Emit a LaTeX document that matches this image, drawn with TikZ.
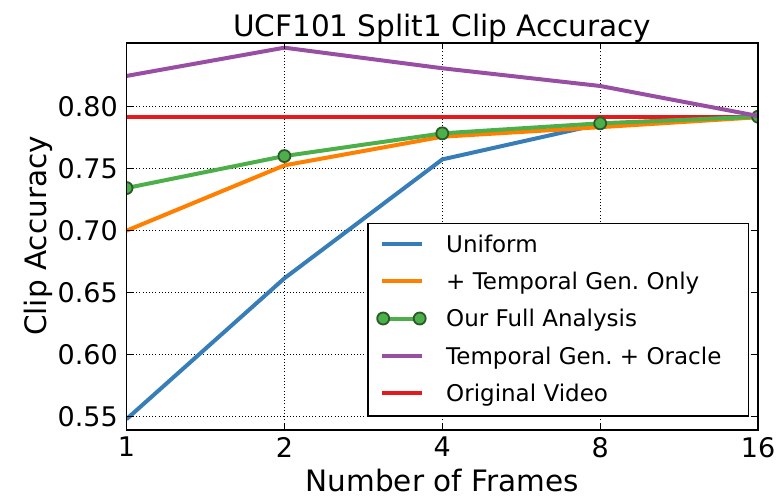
\documentclass[tikz,border=0pt]{standalone}
\usepackage{fontspec}
\setmainfont{DejaVu Sans}
\usetikzlibrary{positioning}

\definecolor{setblue}{HTML}{377EB8}
\definecolor{setorange}{HTML}{FF7F00}
\definecolor{setgreen}{HTML}{4DAF4A}
\definecolor{setpurple}{HTML}{984EA3}
\definecolor{setred}{HTML}{E41A1C}
\definecolor{markedge}{HTML}{2A5A28}

\tikzstyle{curve}=[line width=4pt, line join=round]
\tikzstyle{gridline}=[draw=black, line width=0.9pt, dash pattern=on 1pt off 2.2pt]
\tikzstyle{frame}=[draw=black, line width=1.3pt]
\tikzstyle{marker}=[draw=markedge, fill=setgreen, line width=1.8pt, circle, minimum size=12pt, inner sep=0pt]
\tikzstyle{ticklabel}=[font=\fontsize{27}{30}\selectfont, inner sep=0pt]
\tikzstyle{axislabel}=[font=\fontsize{29.5}{32}\selectfont, inner sep=0pt]
\tikzstyle{legendtext}=[font=\fontsize{23}{26}\selectfont, anchor=base west, inner sep=0pt]
\newcommand{\ymin}{-1.07}
\newcommand{\ymax}{30.14}

\begin{document}
\frenchspacing
\begin{tikzpicture}
    \useasboundingbox (0,0) rectangle (782pt,499pt);
    % Plot area: x is log2 of the frame count, y is accuracy in hundredths above 0.55
    \begin{scope}[shift={(126.5pt,82.3pt)}, x=157.9pt, y=12.4pt]
        % First we draw the dotted grid
        \foreach \i in {0,...,4}
            \draw[gridline] (\i,\ymin) -- (\i,\ymax);
        \foreach \j in {0,5,...,25}
            \draw[gridline] (0,\j) -- (4,\j);
        % Then the curves, clipped to the axes
        \begin{scope}
            \clip (0,\ymin) rectangle (4,\ymax);
            \draw[curve, setred] (0,24.19) -- (4,24.19);
            \draw[curve, setblue] plot coordinates {(0,-0.2) (1,11.16) (2,20.75) (3,23.6) (4,24.2)};
            \draw[curve, setorange] plot coordinates {(0,15) (1,20.27) (2,22.58) (3,23.35) (4,24.15)};
            \draw[curve, setgreen] plot coordinates {(0,18.44) (1,21.02) (2,22.85) (3,23.66) (4,24.19)};
            \foreach \k/\yy in {0/18.44, 1/21.02, 2/22.85, 3/23.66, 4/24.19}
                \node[marker] (g\k) at (\k,\yy) {};
            \draw[curve, setpurple] plot coordinates {(0,27.48) (1,29.76) (2,28.1) (3,26.67) (4,24.25)};
        \end{scope}
        % Frame with inward ticks and tick labels
        \draw[frame] (0,\ymin) rectangle (4,\ymax);
        \foreach \i/\lab in {0/1, 1/2, 2/4, 3/8, 4/16} {
            \draw[frame] (\i,\ymin) -- ++(0,6pt) (\i,\ymax) -- ++(0,-6pt);
            \node[ticklabel, anchor=north] (xt\i) at ([yshift=-7pt]\i,\ymin) {\lab};
        }
        \foreach \j/\lab in {0/0.55, 5/0.60, 10/0.65, 15/0.70, 20/0.75, 25/0.80} {
            \draw[frame] (0,\j) -- ++(6pt,0) (4,\j) -- ++(-6pt,0);
            \node[ticklabel, anchor=east] (yt\j) at ([xshift=-8.5pt]0,\j) {\lab};
        }
    \end{scope}
    % Title and axis labels
    \node[axislabel, anchor=base] (title) at (442.2pt,462.3pt) {UCF101 Split1 Clip Accuracy};
    \node[axislabel, anchor=base] (xlabel) at (442.2pt,8pt) {Number of Frames};
    \node[axislabel, anchor=base, rotate=90] (ylabel) at (46pt,263pt) {Clip Accuracy};
    % Legend box with one row per curve
    \node[frame, fill=white, minimum width=380.4pt, minimum height=192.7pt, anchor=south west, inner sep=0pt] (legend) at (367.3pt,82.3pt) {};
    \foreach \k/\col/\lab in {0/setblue/Uniform, 1/setorange/+ Temporal Gen. Only, 2/setgreen/Our Full Analysis, 3/setpurple/Temporal Gen. + Oracle, 4/setred/Original Video} {
        \coordinate (h\k) at (381.7pt, 254.7pt - \k*37.1pt);
        \draw[curve, \col] (h\k) -- ++(40pt,0);
        \node[legendtext] (l\k) at ([xshift=64.3pt, yshift=-8.4pt]h\k) {\lab};
    }
    \node[marker] (m0) at ([xshift=1.5pt]h2) {};
    \node[marker] (m1) at ([xshift=38pt]h2) {};
\end{tikzpicture}
\end{document}
